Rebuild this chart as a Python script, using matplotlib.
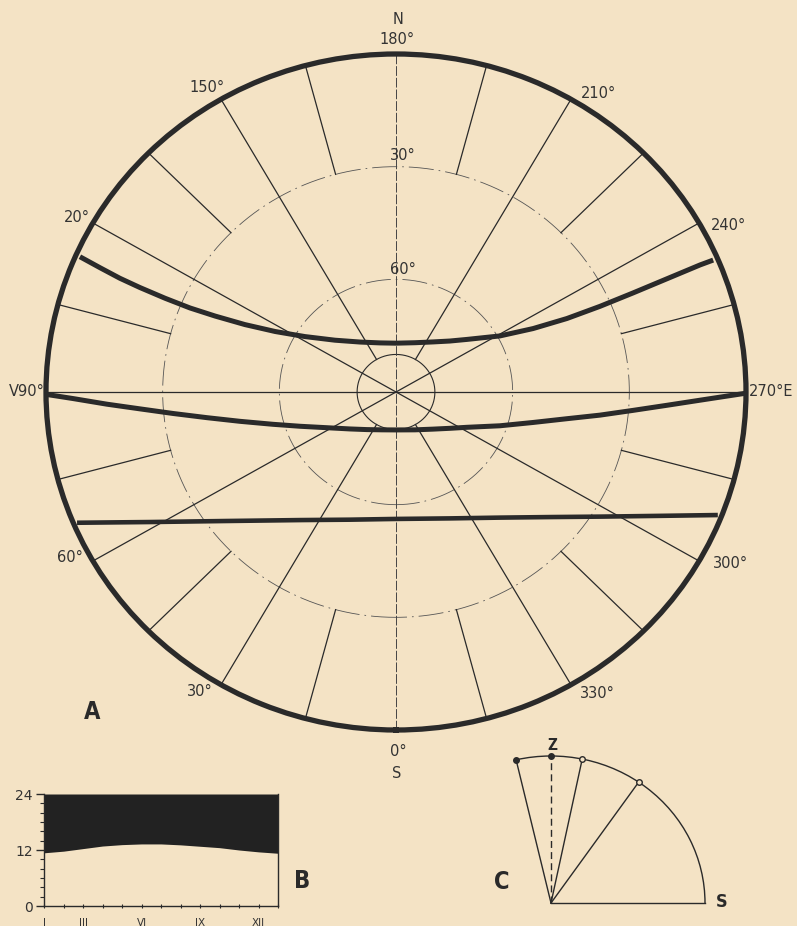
import numpy as np
import matplotlib
matplotlib.use('Agg')
import matplotlib.pyplot as plt
from matplotlib.patches import Arc
from matplotlib import font_manager

W, H = 797, 926
paper = '#f4e3c5'
ink = '#2a2a2a'

# sun paths (azimuth: 0 = S, 90 = W, 180 = N, -90 = E ; altitude in degrees)
summer_az = [113.9, 113.5, 113.1, 112.9, 112.8, 112.9, 113.5, 114.8, 117.4, 122.2, 131.3, 145.2, 162.6,
             180.0, 200.4, 215.6, 225.6, 232.5, 240.8, 244.4, 246.0, 246.5, 246.6, 246.6, 246.6, 246.7]
summer_alt = [1.1, 7.0, 12.8, 18.5, 25.6, 32.5, 39.3, 47.2, 55.0, 62.3, 69.1, 73.8, 76.3,
              77.0, 76.0, 73.6, 70.6, 67.0, 59.4, 50.9, 41.9, 32.8, 23.6, 14.0, 4.8, 1.2]
equinox_az = [89.6, 88.8, 87.5, 86.1, 84.3, 82.0, 79.0, 74.8, 69.7, 59.3, 50.3, 36.8, 19.7, 0.0,
              -25.9, -43.8, -55.1, -62.7, -71.4, -77.0, -80.8, -83.3, -85.4, -87.1, -88.4, -89.8]
equinox_alt = [0.0, 6.9, 15.6, 24.0, 32.4, 40.9, 49.1, 57.2, 63.7, 71.2, 74.6, 77.5, 79.3, 79.9,
               78.8, 76.3, 73.1, 69.5, 61.8, 53.9, 45.5, 37.2, 28.9, 20.2, 11.8, 0.0]
winter_az = [67.0, 61.3, 52.0, 35.9, 19.2, 0.0, -22.4, -38.6, -49.9, -57.7, -64.1, -68.4]
winter_alt = [0.9, 17.9, 34.2, 47.9, 54.0, 56.2, 53.6, 47.2, 38.3, 27.9, 14.5, 1.0]

# azimuth rays of the grid
meridian_az = [0, 180]
full_az = [60, 90, 120, 240, 270, 300]
hub_az = [30, 150, 210, 330]
short_az = [15, 45, 75, 105, 135, 165, 195, 225, 255, 285, 315, 345]
alt_circles = [30, 60]
inner_alt = 80

# B: hours of daylight through the year, night shaded up to 24 h
month_pos = list(range(13))
day_len = [11.4, 11.75, 12.3, 12.85, 13.15, 13.3, 13.3, 13.1, 12.8, 12.5, 12.0, 11.6, 11.3]
month_ticks = [0, 2, 5, 8, 11]
month_labels = ['I', 'III', 'VI', 'IX', 'XII']
hour_ticks = [0, 12, 24]

# C: noon sun elevation measured from the south horizon
noon_elev = [103.1, 78.3, 55.3]
noon_filled = [True, False, False]


def box(x0, y0, x1, y1):
    return [x0 / W, 1 - y1 / H, (x1 - x0) / W, (y1 - y0) / H]


def label(x, y, s, **kw):
    kw.setdefault('fontsize', 10.5)
    kw.setdefault('color', '#333333')
    fig.text(x / W, 1 - y / H, s, ha=kw.pop('ha', 'center'), va=kw.pop('va', 'center'), **kw)


names = {f.name for f in font_manager.fontManager.ttflist}
narrow = 'Liberation Sans Narrow' if 'Liberation Sans Narrow' in names else 'DejaVu Sans'
bold = dict(fontweight='bold', family=narrow, fontstretch='condensed', color=ink)

fig = plt.figure(figsize=(W / 100, H / 100), dpi=100)
fig.patch.set_facecolor(paper)

# ---- A: sky chart ----
ax = fig.add_axes(box(46, 54, 746, 730), projection='polar')
ax.set_facecolor('none')
ax.set_theta_zero_location('S')
ax.set_theta_direction(-1)
ax.set_ylim(90, 0)
ax.set_aspect('auto')
ax.grid(False)
ax.set_xticks([])
ax.set_yticks([])
ax.spines['polar'].set_linewidth(3.8)
ax.spines['polar'].set_color(ink)

th = np.linspace(0, 2 * np.pi, 400)
for a in alt_circles:
    ax.plot(th, np.full_like(th, a), color='#555555', lw=0.6, ls=(0, (30, 6, 2, 6)))
ax.plot(th, np.full_like(th, inner_alt), color=ink, lw=0.8)

for az in meridian_az:
    ax.plot([np.radians(az)] * 2, [0, 90], color='#444444', lw=0.7, ls=(0, (10, 2)))
for az in full_az:
    ax.plot([np.radians(az)] * 2, [0, 90], color=ink, lw=0.9)
for az in hub_az:
    ax.plot([np.radians(az)] * 2, [0, inner_alt], color=ink, lw=0.9)
for az in short_az:
    ax.plot([np.radians(az)] * 2, [0, alt_circles[0]], color=ink, lw=0.9)

for az, alt, lw in [(summer_az, summer_alt, 3.6), (equinox_az, equinox_alt, 3.6),
                    (winter_az, winter_alt, 3.3)]:
    ax.plot(np.radians(az), alt, color=ink, lw=lw, solid_capstyle='butt', solid_joinstyle='round')

label(398, 20, 'N')
label(397, 40, '180°')
label(207, 88, '150°')
label(598, 94, '210°')
label(77, 217, '20°')
label(728, 226, '240°')
label(403, 155, '30°')
label(403, 270, '60°')
label(45, 391, 'V90°', ha='right')
label(749, 392, '270°E', ha='left')
label(70, 557, '60°')
label(730, 563, '300°')
label(200, 692, '30°')
label(597, 694, '330°')
label(398, 752, '0°')
label(397, 773, 'S')
label(92, 712, 'A', fontsize=17, **bold)

# ---- B: daylight / night through the year ----
axB = fig.add_axes(box(44, 794, 278, 906))
axB.set_facecolor('none')
axB.fill_between(month_pos, day_len, 24, color='#222222', lw=0)
axB.set_xlim(0, 12)
axB.set_ylim(0, 24)
axB.spines['top'].set_visible(False)
for s in ['left', 'bottom', 'right']:
    axB.spines[s].set_color(ink)
    axB.spines[s].set_linewidth(1.0)
axB.set_yticks(hour_ticks)
axB.set_yticklabels([str(h) for h in hour_ticks])
axB.set_yticks(range(0, 25, 2), minor=True)
axB.set_xticks(month_ticks)
axB.set_xticklabels(month_labels)
axB.set_xticks(month_pos, minor=True)
axB.tick_params(axis='y', which='major', length=6, width=1, color=ink,
                labelsize=10, labelcolor='#333333', pad=2)
axB.tick_params(axis='y', which='minor', length=3, width=0.8, color=ink)
axB.tick_params(axis='x', which='major', length=3, width=0.8, direction='inout', color=ink,
                labelsize=7.5, labelcolor='#333333', pad=7)
axB.tick_params(axis='x', which='minor', length=3, width=0.8, direction='inout', color=ink)
label(302, 881, 'B', fontsize=17, **bold)

# ---- C: noon sun elevations ----
axC = fig.add_axes(box(470, 735, 740, 915))
axC.set_facecolor('none')
axC.set_xlim((470 - 551) / 154, (740 - 551) / 154)
axC.set_ylim((903 - 915) / 147, (903 - 735) / 147)
axC.axis('off')
axC.add_patch(Arc((0, 0), 2, 2, theta1=0, theta2=max(noon_elev), color=ink, lw=1.0))
axC.plot([0, 1], [0, 0], color=ink, lw=1.0)
axC.plot([0, 0], [0, 1], color=ink, lw=1.0, ls=(0, (5, 3)))
axC.plot([0], [1], 'o', ms=4, color=ink)
for e, filled in zip(noon_elev, noon_filled):
    ex, ey = np.cos(np.radians(e)), np.sin(np.radians(e))
    axC.plot([0, ex], [0, ey], color=ink, lw=1.0)
    axC.plot([ex], [ey], 'o', ms=4, mec=ink, mew=1.0, mfc=ink if filled else paper)
label(552, 746, 'Z', fontsize=11, **bold)
label(502, 882, 'C', fontsize=17, **bold)
label(722, 902, 'S', fontsize=13, **bold)

fig.savefig('out.png', dpi=100, facecolor=paper)
